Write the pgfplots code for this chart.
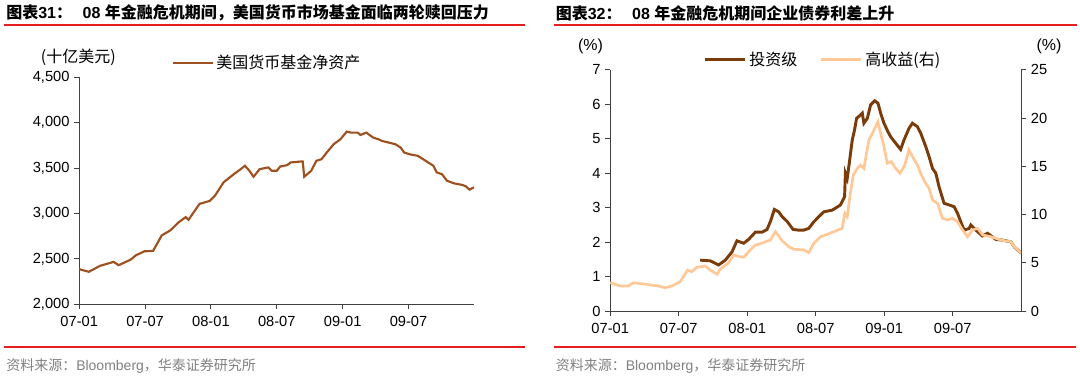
\documentclass[border=0pt]{standalone}
\usepackage{fontspec}
\setmainfont{Liberation Sans}
\newfontfamily\cjk{Noto Sans CJK SC}
\usepackage{pgfplots}
\pgfplotsset{compat=1.18}
\definecolor{lbrown}{RGB}{158,80,30}
\definecolor{dbrown}{RGB}{122,60,10}
\definecolor{peach}{RGB}{255,200,150}
\definecolor{redline}{RGB}{230,30,30}
\definecolor{axgray}{RGB}{64,64,64}
\definecolor{foot}{RGB}{128,128,128}
\pgfplotsset{
  common/.style={
    scale only axis, xmin=0, xmax=36,
    axis line style={-, color=axgray, line width=0.75pt},
    tick align=outside, major tick length=3.75pt,
    tick style={axgray, line width=0.75pt},
    ticklabel style={font=\fontsize{11}{13}\selectfont},
    xticklabel style={yshift=-2pt},
    /pgf/number format/assume math mode=true,
    /pgf/number format/1000 sep={,},
    scaled y ticks=false,
    xtick={0,6,12,18,24,30},
    xticklabels={07-01,07-07,08-01,08-07,09-01,09-07},
    legend style={draw=none, fill=none, inner sep=0pt, font=\fontsize{12}{14}\selectfont\cjk},
    legend cell align=left,
  }
}
\begin{document}
\begin{tikzpicture}[x=0.75pt,y=-0.75pt]
\path[use as bounding box] (0,0) rectangle (1080,386);
% titles
\node[anchor=west,inner sep=0pt] at (6,13) {\fontsize{12}{14}\selectfont\bfseries{\cjk 图表}31{\cjk ：}\hspace{8pt}08 {\cjk 年金融危机期间，美国货币市场基金面临两轮赎回压力}};
\node[anchor=west,inner sep=0pt] at (555.5,13) {\fontsize{12}{14}\selectfont\bfseries{\cjk 图表}32{\cjk ：}\hspace{8pt}08 {\cjk 年金融危机期间企业债券利差上升}};
\draw[redline,line width=1.1pt] (4,25) -- (525,25);
\draw[redline,line width=1.1pt] (554,25) -- (1077,25);
\draw[redline,line width=1.1pt] (4,347) -- (525,347);
\draw[redline,line width=1.1pt] (554,347) -- (1076,347);
\node[anchor=west,inner sep=0pt,text=foot] at (6,366) {\fontsize{10.5}{12}\selectfont{\cjk 资料来源：}Bloomberg{\cjk ，华泰证券研究所}};
\node[anchor=west,inner sep=0pt,text=foot] at (555.5,366) {\fontsize{10.5}{12}\selectfont{\cjk 资料来源：}Bloomberg{\cjk ，华泰证券研究所}};
% unit labels
\node[anchor=west,inner sep=0pt] at (40.6,57) {\fontsize{12}{14}\selectfont\cjk (十亿美元)};
\node[inner sep=0pt] at (590.5,46) {\fontsize{12}{14}\selectfont (\%)};
\node[inner sep=0pt] at (1049,46) {\fontsize{12}{14}\selectfont (\%)};

% left chart
\begin{axis}[common, at={(59.4pt,-228.225pt)}, anchor=south west,
  width=296.4pt, height=170.25pt,
  ymin=2000, ymax=4500, ytick={2000,2500,...,4500},
  axis x line*=bottom, axis y line*=left,
  legend style={at={(0.2333,1.0643)}, anchor=west},
  legend image code/.code={\draw[#1] (0pt,0pt) -- (30pt,0pt);},
]
\addplot[lbrown, line width=1.6pt] coordinates {
(0,2387)(0.88,2358)(1.88,2423)(3.13,2467)(3.6,2431)(4.7,2493)(5.17,2540)(5.95,2584)(6.73,2588)(7.52,2759)(8.3,2814)(9.08,2905)(9.7,2960)(9.96,2931)(10.96,3106)(11.9,3139)(12.37,3197)(13.15,3343)(14.09,3434)(14.72,3489)(15.1,3526)(15.5,3471)(15.88,3405)(16.44,3489)(17.22,3507)(17.54,3471)(18.0,3471)(18.32,3518)(18.95,3533)(19.26,3562)(20.2,3573)(20.36,3573)(20.5,3405)(21.14,3471)(21.6,3580)(22.08,3599)(22.55,3672)(23.18,3763)(23.8,3818)(24.37,3902)(24.74,3891)(25.37,3891)(25.62,3865)(26.15,3891)(26.78,3836)(27.25,3818)(27.56,3800)(28.8,3763)(29.28,3726)(29.6,3672)(30.07,3653)(30.85,3635)(31.79,3562)(32.26,3526)(32.57,3453)(33.04,3434)(33.5,3361)(34.14,3332)(34.92,3314)(35.23,3299)(35.55,3263)(35.95,3288)
};
\addlegendentry{美国货币基金净资产}
\end{axis}

% right chart, left axis
\begin{axis}[common, at={(457.65pt,-233.4pt)}, anchor=south west,
  width=308.25pt, height=181.125pt,
  ymin=0, ymax=7, ytick={0,1,...,7},
  axis x line*=bottom, axis y line*=left,
  legend columns=2,
  legend style={at={(0.227,1.043)}, anchor=west, /tikz/every even column/.append style={column sep=15pt}},
  legend image code/.code={\draw[#1] (0pt,0pt) -- (30pt,0pt);},
]
\addplot[dbrown, line width=2.2pt] coordinates {
(7.88,1.48)(8.76,1.46)(9.49,1.34)(10.08,1.48)(10.67,1.72)(11.1,2.04)(11.69,1.97)(12.12,2.08)(12.71,2.29)(13.3,2.29)(13.74,2.37)(14.03,2.6)(14.38,2.95)(14.76,2.88)(15.06,2.74)(15.5,2.6)(16.02,2.37)(16.5,2.35)(16.95,2.35)(17.39,2.40)(17.83,2.59)(18.42,2.79)(18.71,2.88)(19.45,2.93)(20.17,3.08)(20.53,3.32)(20.6,4.0)(20.76,3.85)(20.9,4.19)(21.2,4.96)(21.4,5.25)(21.58,5.59)(21.93,5.69)(22.08,5.74)(22.22,5.45)(22.52,5.59)(22.81,5.98)(23.16,6.1)(23.45,6.03)(23.69,5.74)(23.98,5.45)(24.33,5.2)(24.56,5.06)(25.0,4.87)(25.44,4.69)(25.73,4.96)(26.17,5.3)(26.47,5.45)(26.9,5.35)(27.2,5.16)(27.64,4.77)(27.93,4.48)(28.23,4.14)(28.52,4.0)(28.8,3.61)(29.24,3.13)(29.68,3.08)(30.12,3.03)(30.42,2.84)(30.71,2.59)(31.0,2.35)(31.44,2.40)(31.59,2.5)(32.03,2.35)(32.6,2.18)(33.05,2.26)(33.78,2.08)(34.37,2.06)(35.1,2.01)(35.4,1.86)(36,1.69)
};
\addlegendentry{投资级}
\addlegendimage{peach, line width=2pt}
\addlegendentry{高收益(右)}
\end{axis}

% right chart, right axis
\begin{axis}[common, at={(457.65pt,-233.4pt)}, anchor=south west,
  width=308.25pt, height=181.125pt,
  ymin=0, ymax=25, ytick={0,5,...,25},
  axis x line=none, axis y line*=right,
]
\addplot[peach, line width=2pt] coordinates {
(0,2.95)(0.86,2.61)(1.59,2.61)(2.03,2.95)(2.91,2.82)(4.22,2.61)(4.81,2.43)(5.4,2.61)(6.13,3.05)(6.77,4.26)(7.15,4.09)(7.59,4.54)(8.32,4.68)(8.76,4.26)(9.35,3.82)(9.64,4.34)(10.37,5.02)(10.81,5.82)(11.1,5.71)(11.69,5.58)(12.12,6.16)(12.71,6.85)(13.0,6.92)(13.59,7.19)(14.03,7.37)(14.47,8.23)(15.06,7.3)(15.64,6.68)(16.08,6.41)(16.95,6.34)(17.39,6.06)(17.83,7.03)(18.42,7.71)(18.86,7.89)(19.59,8.23)(20.32,8.58)(20.55,10.13)(20.76,9.78)(20.99,11.85)(21.29,14.1)(21.64,14.79)(21.93,15.13)(22.22,14.79)(22.66,17.72)(22.96,18.4)(23.45,19.62)(23.69,18.4)(23.98,17.03)(24.27,15.31)(24.63,15.48)(25.0,14.79)(25.38,14.27)(25.8,15.13)(26.17,16.69)(26.56,15.83)(26.91,15.13)(27.26,14.1)(27.55,13.41)(27.93,12.72)(28.23,11.51)(28.67,11.17)(29.1,9.62)(29.54,9.44)(29.98,9.62)(30.42,9.27)(30.86,8.41)(31.3,7.71)(31.74,8.41)(32.18,8.58)(32.62,7.89)(33.34,7.71)(34.22,7.37)(35.1,7.19)(35.4,6.67)(36,6.03)
};
\end{axis}
\end{tikzpicture}
\end{document}
